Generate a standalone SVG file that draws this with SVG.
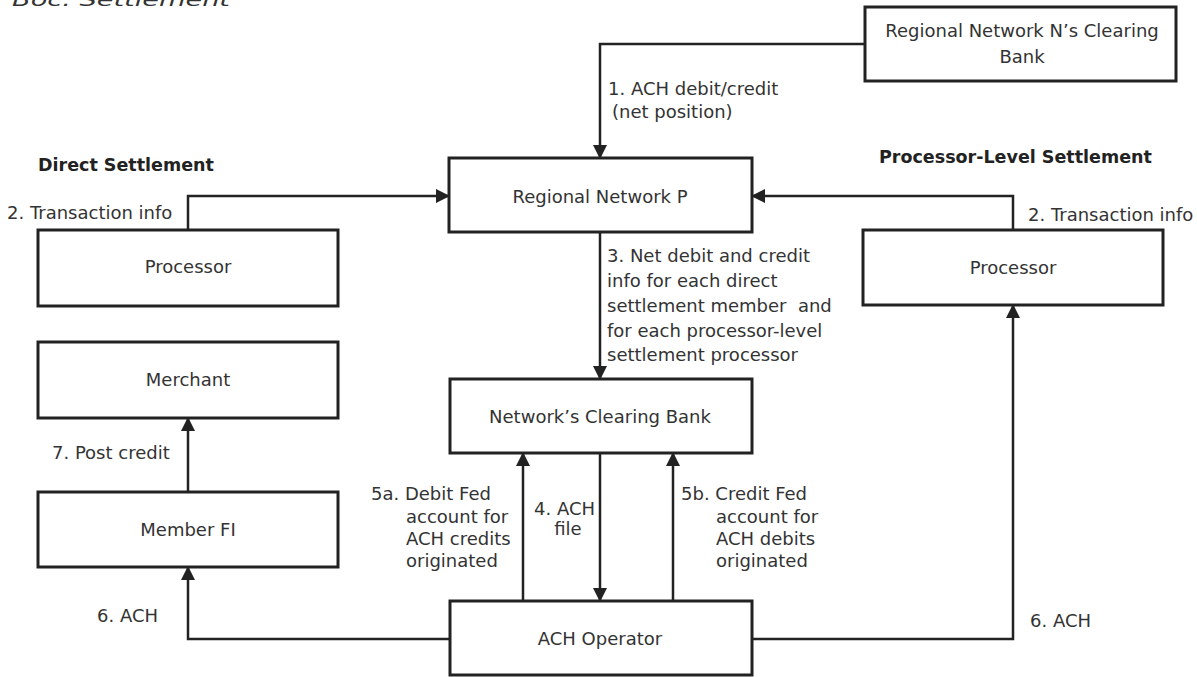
<svg xmlns="http://www.w3.org/2000/svg" width="1197" height="677" viewBox="0 0 1197 677">
<defs>
<marker id="arr" viewBox="0 0 14 14" refX="13" refY="7" markerWidth="14" markerHeight="14" markerUnits="userSpaceOnUse" orient="auto">
<path d="M0,0 L14,7 L0,14 Z" fill="#222"/>
</marker>
<style>
.box{fill:#fff;stroke:#222;stroke-width:3}
.t{font-family:"DejaVu Sans","Liberation Sans",sans-serif;font-size:18px;fill:#333}
.c{text-anchor:middle}
.b{font-weight:bold;font-size:17.5px;fill:#222}
.ln{fill:none;stroke:#222;stroke-width:2.5;marker-end:url(#arr)}
</style>
</defs>
<rect width="1197" height="677" fill="#fff"/>
<text class="t" x="12" y="6" font-style="italic" font-size="26" textLength="218" lengthAdjust="spacingAndGlyphs">Boc. Settlement</text>
<text class="t b" x="38" y="171">Direct Settlement</text>
<text class="t b" x="879" y="163">Processor-Level Settlement</text>

<g id="connectors">
<path class="ln" d="M865,44 H600 V158"/>
<path class="ln" d="M188,230 V196 H449"/>
<path class="ln" d="M1013,230 V196 H752"/>
<path class="ln" d="M600,232 V379"/>
<path class="ln" d="M600,453 V601"/>
<path class="ln" d="M523,601 V453"/>
<path class="ln" d="M673,601 V453"/>
<path class="ln" d="M450,639 H188 V567"/>
<path class="ln" d="M752,639 H1013 V305"/>
<path class="ln" d="M188,492 V418"/>
<text class="t" x="608" y="95">1. ACH debit/credit</text>
<text class="t" x="612" y="118">(net position)</text>
<text class="t" x="7" y="219">2. Transaction info</text>
<text class="t" x="1028" y="221">2. Transaction info</text>
<text class="t" x="607" y="262">3. Net debit and credit</text>
<text class="t" x="607" y="287">info for each direct</text>
<text class="t" x="607" y="312" xml:space="preserve">settlement member  and</text>
<text class="t" x="607" y="337">for each processor-level</text>
<text class="t" x="607" y="361">settlement processor</text>
<text class="t" x="534" y="515">4. ACH</text>
<text class="t c" x="568" y="535">file</text>
<text class="t" x="371" y="500">5a. Debit Fed</text>
<text class="t" x="406" y="523">account for</text>
<text class="t" x="406" y="545">ACH credits</text>
<text class="t" x="406" y="567">originated</text>
<text class="t" x="681" y="500">5b. Credit Fed</text>
<text class="t" x="716" y="523">account for</text>
<text class="t" x="716" y="545">ACH debits</text>
<text class="t" x="716" y="567">originated</text>
<text class="t" x="97" y="622">6. ACH</text>
<text class="t" x="1030" y="627">6. ACH</text>
<text class="t" x="52" y="459">7. Post credit</text>
</g>

<g id="n-clearing-bank">
<rect class="box" x="865" y="7" width="311" height="74"/>
<text class="t c" x="1022" y="37">Regional Network N’s Clearing</text>
<text class="t c" x="1022" y="63">Bank</text>
</g>
<g id="regional-network-p">
<rect class="box" x="449" y="158" width="303" height="74"/>
<text class="t c" x="600" y="203">Regional Network P</text>
</g>
<g id="processor-left">
<rect class="box" x="38" y="230" width="300" height="76"/>
<text class="t c" x="188" y="273">Processor</text>
</g>
<g id="processor-right">
<rect class="box" x="863" y="230" width="300" height="75"/>
<text class="t c" x="1013" y="274">Processor</text>
</g>
<g id="merchant">
<rect class="box" x="38" y="342" width="300" height="76"/>
<text class="t c" x="188" y="386">Merchant</text>
</g>
<g id="member-fi">
<rect class="box" x="38" y="492" width="300" height="75"/>
<text class="t c" x="188" y="536">Member FI</text>
</g>
<g id="network-clearing-bank">
<rect class="box" x="450" y="379" width="302" height="74"/>
<text class="t c" x="600" y="423">Network’s Clearing Bank</text>
</g>
<g id="ach-operator">
<rect class="box" x="450" y="601" width="302" height="74"/>
<text class="t c" x="600" y="645">ACH Operator</text>
</g>
</svg>
